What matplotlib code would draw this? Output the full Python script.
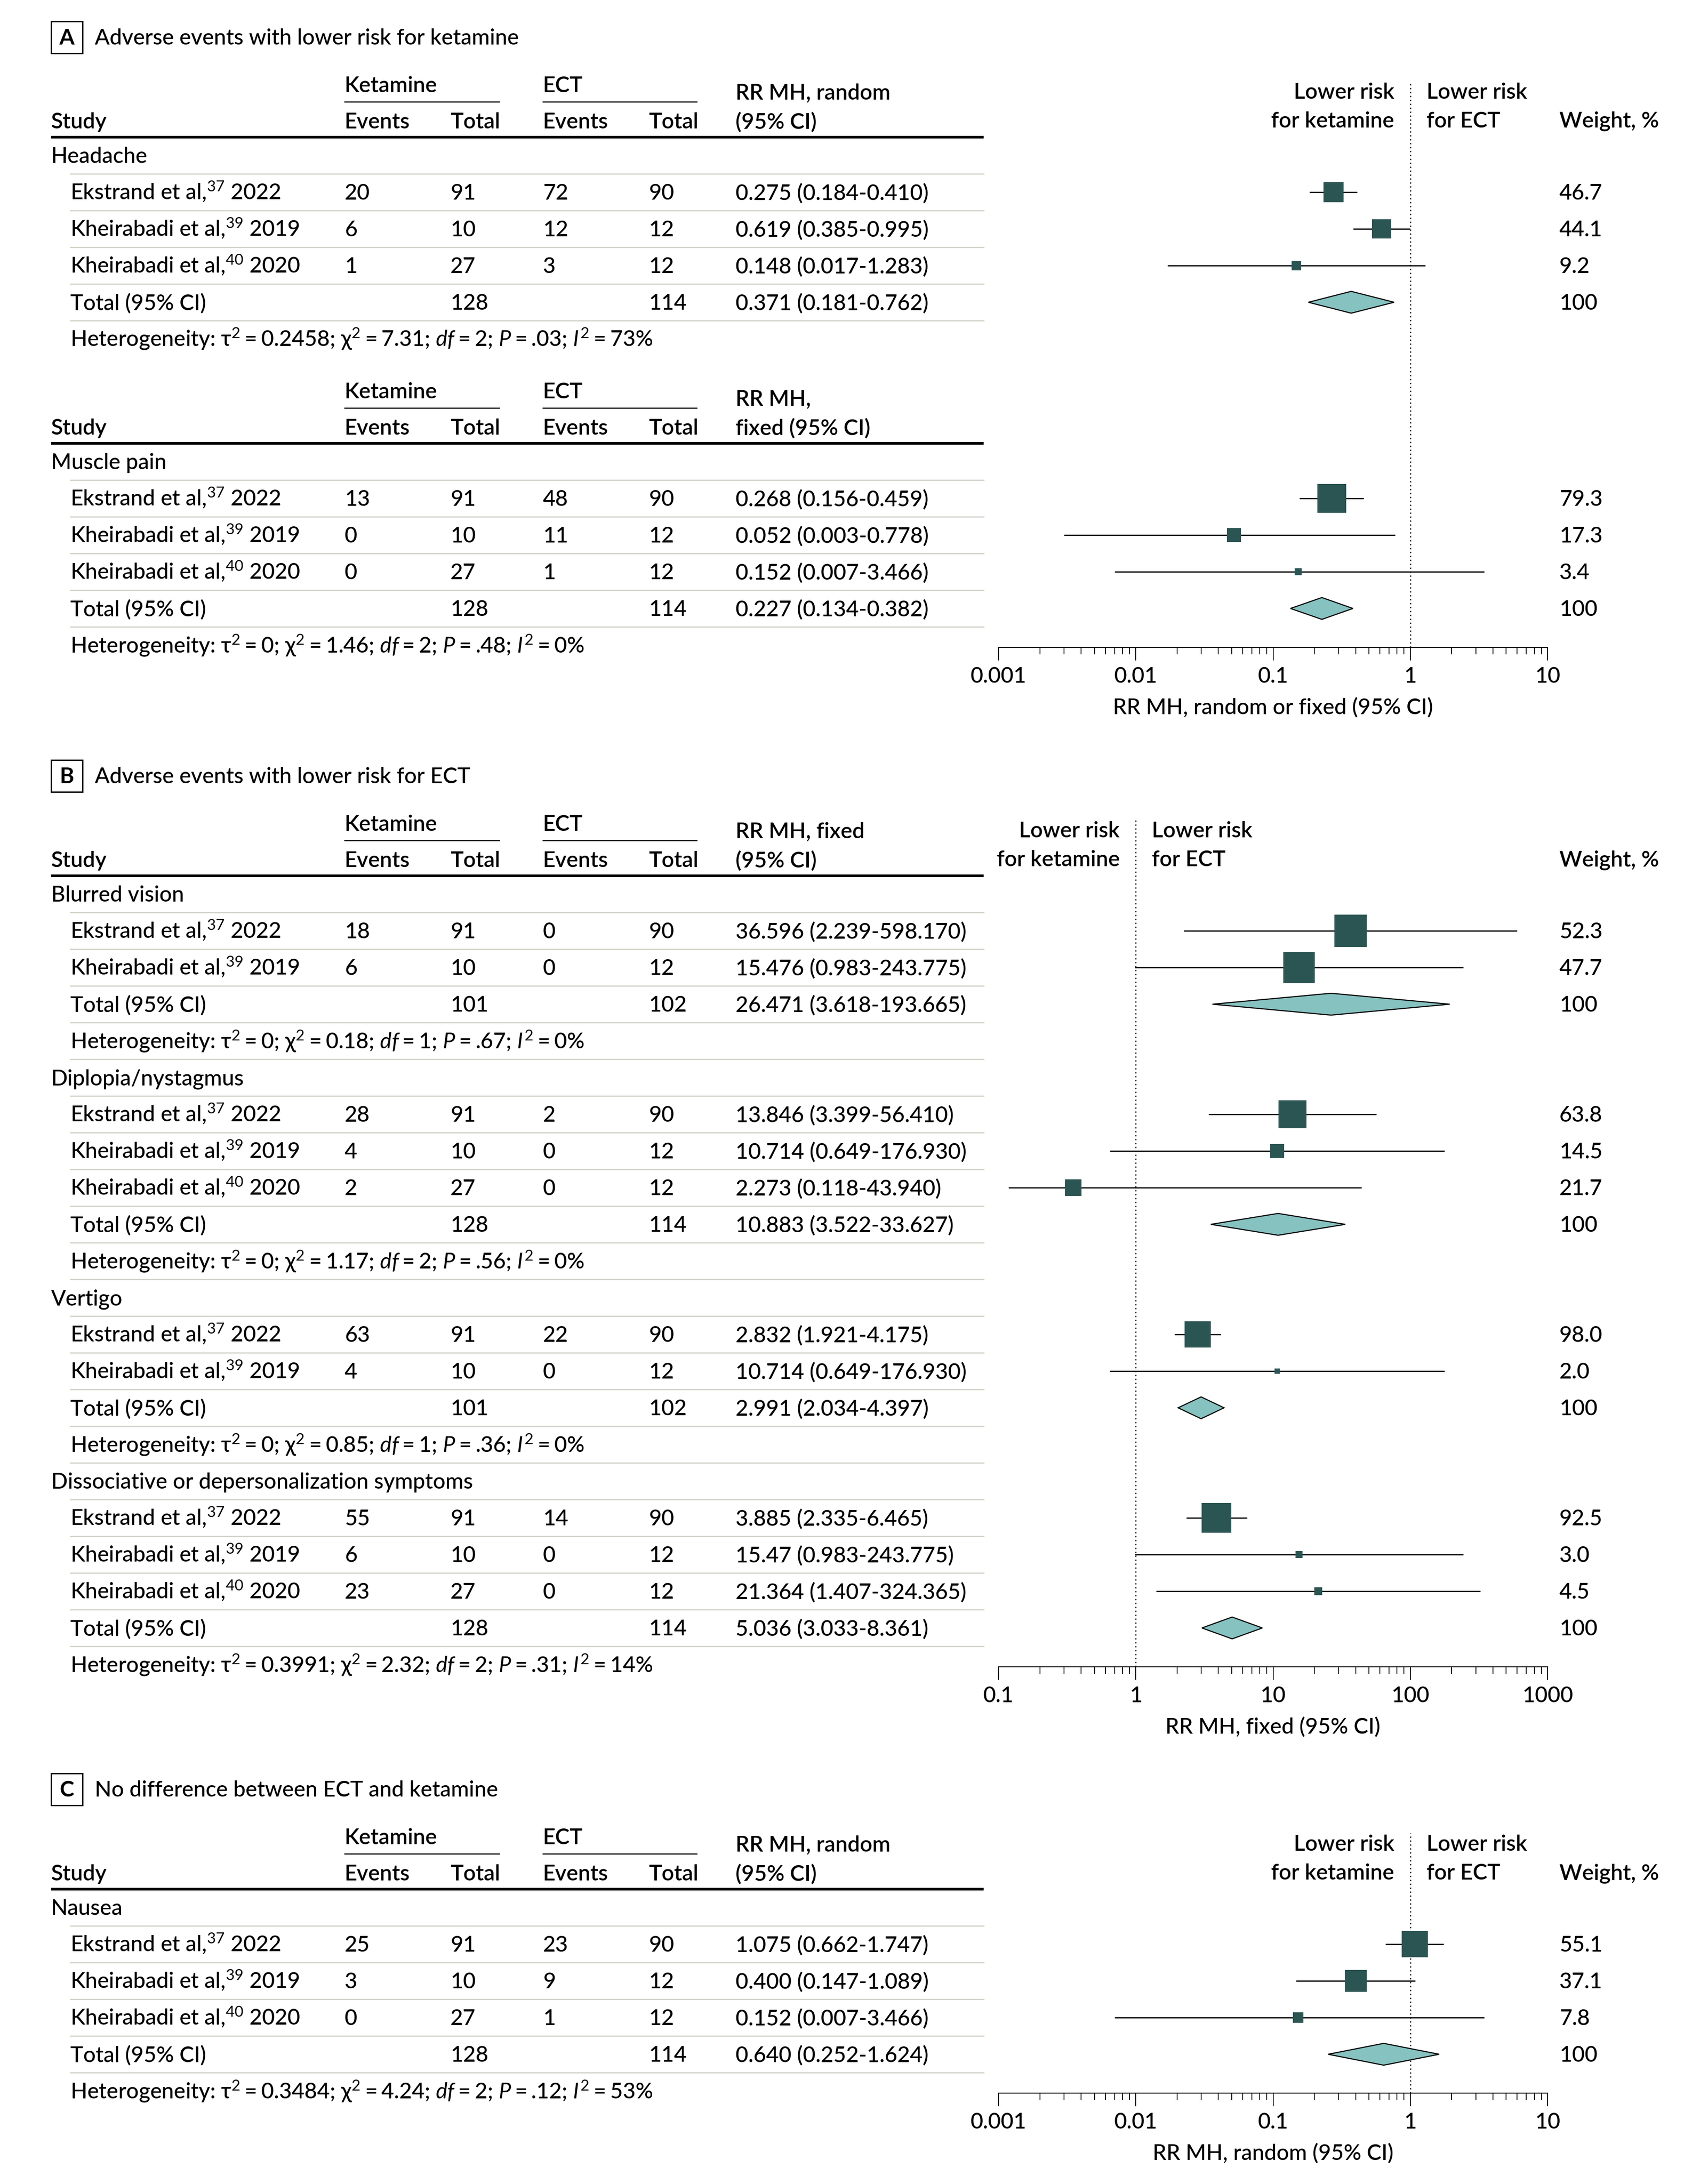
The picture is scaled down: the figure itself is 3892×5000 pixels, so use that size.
import numpy as np
import matplotlib
matplotlib.use('Agg')
import matplotlib.pyplot as plt
from matplotlib import ticker

plt.rcParams['font.family'] = ['Lato', 'DejaVu Sans']
plt.rcParams['mathtext.fontset'] = 'custom'
plt.rcParams['mathtext.rm'] = 'Lato'
plt.rcParams['mathtext.it'] = 'Lato:italic'
plt.rcParams['mathtext.bf'] = 'Lato:bold'

# ---------------- data ----------------
sections = ['Headache', 'Muscle pain', 'Blurred vision', 'Diplopia/nystagmus',
            'Vertigo', 'Dissociative or depersonalization symptoms', 'Nausea']

E37 = 'Ekstrand et al,$^{37}$ 2022'
K39 = 'Kheirabadi et al,$^{39}$ 2019'
K40 = 'Kheirabadi et al,$^{40}$ 2020'

row_section = [0, 0, 0, 1, 1, 1, 2, 2, 3, 3, 3, 4, 4, 5, 5, 5, 6, 6, 6]
row_study = [E37, K39, K40, E37, K39, K40, E37, K39, E37, K39, K40,
             E37, K39, E37, K39, K40, E37, K39, K40]
ket_events = [20, 6, 1, 13, 0, 0, 18, 6, 28, 4, 2, 63, 4, 55, 6, 23, 25, 3, 0]
ket_total = [91, 10, 27, 91, 10, 27, 91, 10, 91, 10, 27, 91, 10, 91, 10, 27, 91, 10, 27]
ect_events = [72, 12, 3, 48, 11, 1, 0, 0, 2, 0, 0, 22, 0, 14, 0, 0, 23, 9, 1]
ect_total = [90, 12, 12, 90, 12, 12, 90, 12, 90, 12, 12, 90, 12, 90, 12, 12, 90, 12, 12]
rr_label = ['0.275 (0.184-0.410)', '0.619 (0.385-0.995)', '0.148 (0.017-1.283)',
            '0.268 (0.156-0.459)', '0.052 (0.003-0.778)', '0.152 (0.007-3.466)',
            '36.596 (2.239-598.170)', '15.476 (0.983-243.775)',
            '13.846 (3.399-56.410)', '10.714 (0.649-176.930)', '2.273 (0.118-43.940)',
            '2.832 (1.921-4.175)', '10.714 (0.649-176.930)',
            '3.885 (2.335-6.465)', '15.47 (0.983-243.775)', '21.364 (1.407-324.365)',
            '1.075 (0.662-1.747)', '0.400 (0.147-1.089)', '0.152 (0.007-3.466)']
# point estimates as drawn (Kheirabadi 2020 diplopia box sits near 0.35 in the source)
rr = [0.275, 0.619, 0.148, 0.268, 0.052, 0.152, 36.596, 15.476,
      13.846, 10.714, 0.35, 2.832, 10.714, 3.885, 15.47, 21.364, 1.075, 0.400, 0.152]
ci_lo = [0.184, 0.385, 0.017, 0.156, 0.003, 0.007, 2.239, 0.983,
         3.399, 0.649, 0.118, 1.921, 0.649, 2.335, 0.983, 1.407, 0.662, 0.147, 0.007]
ci_hi = [0.410, 0.995, 1.283, 0.459, 0.778, 3.466, 598.170, 243.775,
         56.410, 176.930, 43.940, 4.175, 176.930, 6.465, 243.775, 324.365, 1.747, 1.089, 3.466]
weight = [46.7, 44.1, 9.2, 79.3, 17.3, 3.4, 52.3, 47.7, 63.8, 14.5, 21.7,
          98.0, 2.0, 92.5, 3.0, 4.5, 55.1, 37.1, 7.8]

total_ket_n = [128, 128, 101, 128, 101, 128, 128]
total_ect_n = [114, 114, 102, 114, 102, 114, 114]
total_label = ['0.371 (0.181-0.762)', '0.227 (0.134-0.382)', '26.471 (3.618-193.665)',
               '10.883 (3.522-33.627)', '2.991 (2.034-4.397)', '5.036 (3.033-8.361)',
               '0.640 (0.252-1.624)']
total_rr = [0.371, 0.227, 26.471, 10.883, 2.991, 5.036, 0.640]
total_lo = [0.181, 0.134, 3.618, 3.522, 2.034, 3.033, 0.252]
total_hi = [0.762, 0.382, 193.665, 33.627, 4.397, 8.361, 1.624]

het_tau2 = ['0.2458', '0', '0', '0', '0', '0.3991', '0.3484']
het_chi2 = ['7.31', '1.46', '0.18', '1.17', '0.85', '2.32', '4.24']
het_df = [2, 2, 1, 2, 1, 2, 2]
het_p = ['.03', '.48', '.67', '.56', '.36', '.31', '.12']
het_i2 = [73, 0, 0, 0, 0, 14, 53]

panel_letter = ['A', 'B', 'C']
panel_title = ['Adverse events with lower risk for ketamine',
               'Adverse events with lower risk for ECT',
               'No difference between ECT and ketamine']
panel_xlabel = ['RR MH, random or fixed (95% CI)', 'RR MH, fixed (95% CI)',
                'RR MH, random (95% CI)']
panel_xlim = [(0.001, 10), (0.1, 1000), (0.001, 10)]

table_panel = [0, 0, 1, 2]
table_sections = [[0], [1], [2, 3, 4, 5], [6]]
table_rr_head = [('RR MH, random', '(95% CI)'), ('RR MH,', 'fixed (95% CI)'),
                 ('RR MH, fixed', '(95% CI)'), ('RR MH, random', '(95% CI)')]

# ---------------- layout (pixels) ----------------
W, H = 3892, 5000
table_top = [314, 1015, 2005, 4325]
P = 84                      # row pitch
box_scale = [6.0, 6.95, 9.8, 7.4, 5.66, 6.65, 7.45]
X_STUDY, X_IND, X_KE, X_KT, X_EE, X_ET, X_RR, X_W = 117, 161, 789, 1031, 1243, 1485, 1684, 3570
X_END = 2252
AX_L, AX_R = 2286, 3543
FS = 36
BASE = 17
BODY = 'medium'
HEAD = 'semibold'
TEAL = '#2b5553'
LTEAL = '#86c2c0'
RULE = '#cdcec3'
SP = '$\\:$=$\\:$'

fig = plt.figure(figsize=(W / 100, H / 100), dpi=100)
bg = fig.add_axes([0, 0, 1, 1])
bg.set_xlim(0, W)
bg.set_ylim(H, 0)
bg.axis('off')


def txt(x, y, s, bold=False, **kw):
    bg.text(x, y + BASE, s, fontsize=FS, va='baseline',
            fontweight=HEAD if bold else BODY, **kw)


forest_rows = {0: [], 1: [], 2: []}   # (y, est, lo, hi, kind, side)
table_end = {}

for t, secs in enumerate(table_sections):
    T = table_top[t]
    p = table_panel[t]
    if t == 0 or table_panel[t - 1] != p:
        ty = T - 229
        bg.add_patch(plt.Rectangle((117, ty - 36), 72, 73, fill=False, lw=2.2, ec='black'))
        bg.text(153, ty + BASE, panel_letter[p], fontsize=FS, fontweight='bold',
                ha='center', va='baseline')
        txt(217, ty, panel_title[p])
        txt(X_W, T - 39, 'Weight, %', bold=True)
    txt(X_KE, T - 120, 'Ketamine', bold=True)
    txt(X_EE, T - 120, 'ECT', bold=True)
    bg.plot([X_KE, 1143], [T - 81, T - 81], color='black', lw=1.8)
    bg.plot([X_EE, 1595], [T - 81, T - 81], color='black', lw=1.8)
    txt(X_RR, T - 103, table_rr_head[t][0], bold=True)
    txt(X_RR, T - 37, table_rr_head[t][1], bold=True)
    txt(X_STUDY, T - 37, 'Study', bold=True)
    for x, s in [(X_KE, 'Events'), (X_KT, 'Total'), (X_EE, 'Events'), (X_ET, 'Total')]:
        txt(x, T - 37, s, bold=True)
    bg.plot([X_STUDY, X_END], [T, T], color='black', lw=4.3, solid_capstyle='butt')

    row = 0
    for s in secs:
        yc = T + (row + 0.5) * P
        if row > 0:
            bg.plot([X_IND, X_END], [T + row * P] * 2, color=RULE, lw=1.8)
        txt(X_STUDY, yc, sections[s])
        row += 1
        for i in [k for k, v in enumerate(row_section) if v == s]:
            yc = T + (row + 0.5) * P
            bg.plot([X_IND, X_END], [T + row * P] * 2, color=RULE, lw=1.8)
            txt(X_IND, yc, row_study[i])
            txt(X_KE, yc, str(ket_events[i]))
            txt(X_KT, yc, str(ket_total[i]))
            txt(X_EE, yc, str(ect_events[i]))
            txt(X_ET, yc, str(ect_total[i]))
            txt(X_RR, yc, rr_label[i])
            txt(X_W, yc, f'{weight[i]:.1f}')
            forest_rows[p].append((yc, rr[i], ci_lo[i], ci_hi[i], 'study',
                                   box_scale[s] * np.sqrt(weight[i]) + 4))
            row += 1
        yc = T + (row + 0.5) * P
        bg.plot([X_IND, X_END], [T + row * P] * 2, color=RULE, lw=1.8)
        txt(X_IND, yc, 'Total (95% CI)')
        txt(X_KT, yc, str(total_ket_n[s]))
        txt(X_ET, yc, str(total_ect_n[s]))
        txt(X_RR, yc, total_label[s])
        txt(X_W, yc, '100')
        forest_rows[p].append((yc, total_rr[s], total_lo[s], total_hi[s], 'total', 0))
        row += 1
        yc = T + (row + 0.5) * P
        bg.plot([X_IND, X_END], [T + row * P] * 2, color=RULE, lw=1.8)
        het = ('Heterogeneity: τ$^2$' + SP + het_tau2[s] + '; χ$^2$' + SP + het_chi2[s]
               + '; $df$' + SP + str(het_df[s]) + '; $P$' + SP + het_p[s]
               + '; $I^2$' + SP + str(het_i2[s]) + '%')
        txt(X_IND, yc, het)
        row += 1
    table_end[t] = T + (row - 0.5) * P + 5

# ---------------- forest plots ----------------
for p in range(3):
    tabs = [t for t in range(len(table_panel)) if table_panel[t] == p]
    top = table_top[tabs[0]] - 128
    axis_y = table_end[tabs[-1]]
    ax = fig.add_axes([AX_L / W, 1 - axis_y / H, (AX_R - AX_L) / W, (axis_y - top) / H])
    ax.set_facecolor('none')
    ax.set_xscale('log')
    ax.set_xlim(*panel_xlim[p])
    ax.set_ylim(axis_y, top)
    for sp in ['left', 'right', 'top']:
        ax.spines[sp].set_visible(False)
    ax.spines['bottom'].set_linewidth(1.6)
    ax.set_yticks([])
    ax.xaxis.set_major_locator(ticker.LogLocator(base=10, numticks=20))
    ax.xaxis.set_minor_locator(ticker.LogLocator(base=10, subs=np.arange(2, 10), numticks=20))
    ax.xaxis.set_minor_formatter(ticker.NullFormatter())
    ax.xaxis.set_major_formatter(ticker.FuncFormatter(lambda v, pos: f'{v:g}'))
    ax.tick_params(axis='x', which='major', length=21.6, width=1.4, pad=10, labelsize=FS)
    ax.tick_params(axis='x', which='minor', length=11.5, width=1.4)
    for lab in ax.get_xticklabels():
        lab.set_fontweight(BODY)
    ax.set_xlabel(panel_xlabel[p], fontsize=FS, labelpad=18, fontweight=BODY)
    ax.axvline(1, color='black', lw=1.8, ls=(0, (1.2, 2.4)), zorder=1)

    hy = table_top[tabs[0]]
    for s, dy, dx, ha in [('Lower risk', -105, -37, 'right'), ('for ketamine', -39, -37, 'right'),
                          ('Lower risk', -105, 37, 'left'), ('for ECT', -39, 37, 'left')]:
        ax.annotate(s, xy=(1, hy + dy + BASE), xytext=(dx, 0),
                    textcoords='offset pixels', ha=ha, va='baseline',
                    fontsize=FS, fontweight=HEAD)

    for yc, est, lo, hi, kind, side in forest_rows[p]:
        if kind == 'study':
            ax.hlines(yc, lo, hi, color='black', lw=2.0, zorder=2)
            ax.plot([est], [yc], marker='s', ms=side * 0.72, color=TEAL,
                    mec=TEAL, mew=0, zorder=3)
        else:
            ax.fill([lo, est, hi, est], [yc, yc - 25, yc, yc + 25],
                    facecolor=LTEAL, edgecolor='black', lw=1.8, zorder=3)

fig.savefig('out.png', dpi=100, facecolor='white')
